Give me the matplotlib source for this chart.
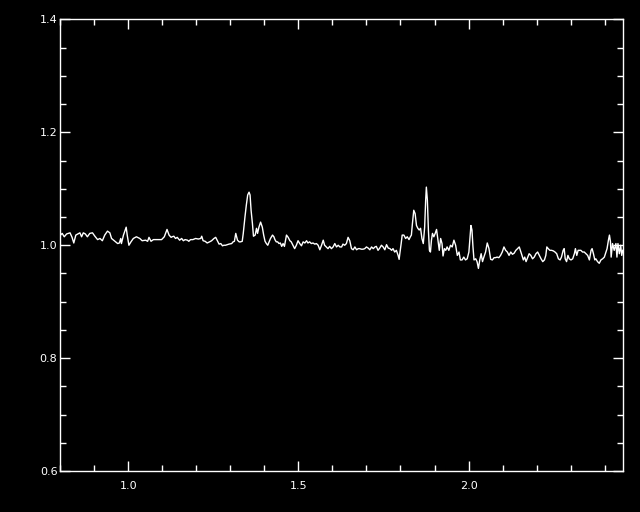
import matplotlib
matplotlib.use("Agg")
import matplotlib.pyplot as plt
from matplotlib.ticker import MultipleLocator

# wavelength (micron) and normalised flux
wave_a = [0.801, 0.806, 0.812, 0.819, 0.829, 0.835, 0.840, 0.846, 0.858, 0.863,
          0.868, 0.874, 0.880, 0.887, 0.895, 0.902, 0.910, 0.917, 0.924, 0.931,
          0.939, 0.946, 0.951, 0.959, 0.969, 0.974, 0.978, 0.980, 0.986, 0.994,
          0.997, 1.002, 1.008, 1.015, 1.024, 1.034, 1.041, 1.051, 1.057, 1.061,
          1.067, 1.074, 1.088, 1.098, 1.106, 1.114, 1.120, 1.126]
flux_a = [1.018, 1.021, 1.015, 1.020, 1.022, 1.014, 1.004, 1.018, 1.022, 1.015,
          1.022, 1.020, 1.015, 1.021, 1.022, 1.016, 1.010, 1.012, 1.008, 1.018,
          1.025, 1.022, 1.012, 1.008, 1.003, 1.004, 1.012, 1.003, 1.018, 1.032,
          1.018, 1.000, 1.006, 1.012, 1.015, 1.012, 1.008, 1.009, 1.007, 1.014,
          1.007, 1.010, 1.010, 1.010, 1.015, 1.028, 1.018, 1.014]

wave_b = [1.129, 1.134, 1.139, 1.144, 1.151, 1.157, 1.162, 1.167, 1.174, 1.178,
          1.183, 1.190, 1.198, 1.206, 1.213, 1.216, 1.220, 1.226, 1.232, 1.239,
          1.245, 1.252, 1.257, 1.262, 1.267, 1.272, 1.277, 1.281, 1.286, 1.291,
          1.296, 1.304, 1.308, 1.312, 1.316, 1.321, 1.326, 1.330, 1.335, 1.338,
          1.343, 1.347, 1.351, 1.355, 1.358, 1.361, 1.365, 1.368, 1.373, 1.377,
          1.380, 1.384, 1.389, 1.394, 1.398, 1.402, 1.406, 1.410, 1.414, 1.418,
          1.424, 1.428, 1.431, 1.435, 1.439, 1.443, 1.447, 1.451, 1.455, 1.459]
flux_b = [1.015, 1.016, 1.012, 1.014, 1.009, 1.012, 1.008, 1.010, 1.009, 1.007,
          1.010, 1.010, 1.012, 1.011, 1.012, 1.016, 1.008, 1.007, 1.004, 1.006,
          1.008, 1.012, 1.014, 1.008, 1.002, 1.003, 0.999, 1.000, 1.000, 1.001,
          1.002, 1.003, 1.006, 1.007, 1.021, 1.009, 1.006, 1.006, 1.007, 1.021,
          1.050, 1.071, 1.089, 1.094, 1.089, 1.062, 1.038, 1.016, 1.018, 1.030,
          1.021, 1.032, 1.041, 1.032, 1.018, 1.007, 1.003, 1.000, 1.006, 1.012,
          1.018, 1.015, 1.010, 1.006, 1.006, 1.003, 1.004, 0.998, 1.003, 0.998]

wave_c = [1.465, 1.470, 1.475, 1.479, 1.484, 1.489, 1.494, 1.499, 1.504, 1.509,
          1.514, 1.519, 1.524, 1.528, 1.533, 1.538, 1.543, 1.548, 1.553, 1.558,
          1.563, 1.568, 1.573, 1.577, 1.582, 1.587, 1.592, 1.597, 1.602, 1.607,
          1.612, 1.617, 1.622, 1.627, 1.631, 1.636, 1.641, 1.646, 1.651, 1.656,
          1.661, 1.666, 1.671, 1.676, 1.680, 1.685, 1.690, 1.695, 1.700, 1.705,
          1.710, 1.715, 1.720, 1.725, 1.729, 1.734, 1.739, 1.744, 1.749, 1.754,
          1.759, 1.764, 1.769, 1.774, 1.778, 1.783, 1.788, 1.793, 1.796, 1.798]
flux_c = [1.018, 1.014, 1.008, 1.006, 1.000, 0.994, 1.000, 1.008, 1.003, 0.999,
          1.006, 1.004, 1.008, 1.004, 1.006, 1.003, 1.004, 1.002, 1.003, 1.000,
          0.992, 1.000, 1.009, 1.000, 0.997, 0.994, 0.998, 0.994, 0.997, 1.003,
          0.997, 1.000, 0.997, 0.997, 1.002, 1.000, 1.003, 1.014, 1.008, 0.994,
          0.992, 0.997, 0.992, 0.994, 0.994, 0.993, 0.993, 0.994, 0.997, 0.995,
          0.992, 0.997, 0.994, 0.997, 0.998, 0.991, 0.995, 1.000, 0.997, 0.992,
          1.001, 0.995, 0.994, 0.991, 0.994, 0.988, 0.991, 0.982, 0.975, 0.985]

wave_d = [1.802, 1.805, 1.810, 1.815, 1.820, 1.825, 1.829, 1.832, 1.835, 1.839,
          1.843, 1.847, 1.851, 1.855, 1.859, 1.863, 1.867, 1.871, 1.874, 1.876,
          1.879, 1.882, 1.885, 1.888, 1.891, 1.894, 1.898, 1.902, 1.906, 1.910,
          1.914, 1.918, 1.922, 1.925, 1.929, 1.933, 1.937, 1.942, 1.947, 1.952,
          1.957, 1.962, 1.967, 1.972, 1.976, 1.981, 1.986, 1.991, 1.996, 2.001,
          2.004, 2.007, 2.010, 2.013, 2.016, 2.021, 2.025, 2.029, 2.033, 2.037,
          2.041, 2.045, 2.050, 2.055, 2.060, 2.065, 2.070, 2.075, 2.079, 2.084,
          2.089, 2.094, 2.099, 2.104, 2.109, 2.114, 2.119, 2.124]
flux_d = [1.003, 1.018, 1.018, 1.012, 1.015, 1.010, 1.015, 1.018, 1.038, 1.062,
          1.056, 1.035, 1.030, 1.027, 1.030, 1.012, 1.003, 1.032, 1.080, 1.103,
          1.080, 1.027, 0.991, 0.988, 1.009, 1.021, 1.015, 1.021, 1.028, 1.009,
          0.991, 1.012, 1.003, 0.981, 0.994, 0.991, 0.997, 0.991, 1.000, 0.997,
          1.009, 1.000, 0.982, 0.988, 0.974, 0.974, 0.979, 0.974, 0.976, 0.988,
          1.012, 1.035, 1.027, 0.997, 0.974, 0.976, 0.971, 0.959, 0.974, 0.985,
          0.971, 0.979, 0.988, 1.004, 0.994, 0.975, 0.974, 0.978, 0.978, 0.979,
          0.978, 0.982, 0.988, 0.997, 0.991, 0.988, 0.982, 0.988]

wave_e = [2.129, 2.134, 2.139, 2.144, 2.149, 2.154, 2.157, 2.161, 2.165, 2.169,
          2.174, 2.178, 2.183, 2.188, 2.193, 2.198, 2.203, 2.208, 2.213, 2.218,
          2.223, 2.227, 2.230, 2.234, 2.239, 2.244, 2.249, 2.254, 2.259, 2.264,
          2.269, 2.273, 2.278, 2.281, 2.284, 2.288, 2.292, 2.296, 2.301, 2.306,
          2.311, 2.314, 2.318, 2.322, 2.325, 2.330, 2.335, 2.340, 2.345, 2.350,
          2.355, 2.360, 2.363, 2.367, 2.371, 2.374, 2.379, 2.384, 2.389, 2.394,
          2.399, 2.404, 2.407, 2.411, 2.414, 2.417, 2.419, 2.423, 2.428, 2.433,
          2.436, 2.439, 2.443, 2.447, 2.450, 2.453]
flux_e = [0.984, 0.986, 0.991, 0.994, 0.997, 0.988, 0.982, 0.974, 0.979, 0.971,
          0.979, 0.985, 0.982, 0.976, 0.979, 0.985, 0.988, 0.982, 0.976, 0.971,
          0.974, 0.982, 0.997, 0.994, 0.991, 0.991, 0.990, 0.988, 0.985, 0.976,
          0.974, 0.979, 0.991, 0.994, 0.976, 0.971, 0.982, 0.976, 0.974, 0.976,
          0.985, 0.994, 0.982, 0.991, 0.991, 0.991, 0.988, 0.988, 0.985, 0.982,
          0.974, 0.991, 0.994, 0.985, 0.974, 0.976, 0.971, 0.968, 0.974, 0.976,
          0.979, 0.988, 0.994, 1.009, 1.018, 1.006, 0.979, 1.003, 0.991, 1.003,
          0.979, 1.003, 0.985, 1.000, 0.982, 0.991]

wave = wave_a + wave_b + wave_c + wave_d + wave_e
flux = flux_a + flux_b + flux_c + flux_d + flux_e

fig = plt.figure(figsize=(6.4, 5.12), dpi=100, facecolor="black")
ax = fig.add_axes([0.094, 0.080, 0.879, 0.882], facecolor="black")

ax.plot(wave, flux, color="white", lw=1.0)

ax.set_xlim(0.8, 2.453)
ax.set_ylim(0.6, 1.4)

ax.xaxis.set_major_locator(MultipleLocator(0.5))
ax.xaxis.set_minor_locator(MultipleLocator(0.1))
ax.yaxis.set_major_locator(MultipleLocator(0.2))
ax.yaxis.set_minor_locator(MultipleLocator(0.05))
ax.xaxis.set_major_formatter(plt.FormatStrFormatter("%.1f"))
ax.yaxis.set_major_formatter(plt.FormatStrFormatter("%.1f"))

for s in ax.spines.values():
    s.set_color("white")
    s.set_linewidth(1.0)

ax.tick_params(which="both", direction="in", colors="white",
               top=True, right=True, labelsize=8, width=1.0)
ax.tick_params(which="major", length=7)
ax.tick_params(which="minor", length=4)
ax.tick_params(axis="x", which="major", pad=7)
ax.tick_params(axis="y", which="major", pad=2)

fig.savefig("out.png", dpi=100, facecolor="black")
